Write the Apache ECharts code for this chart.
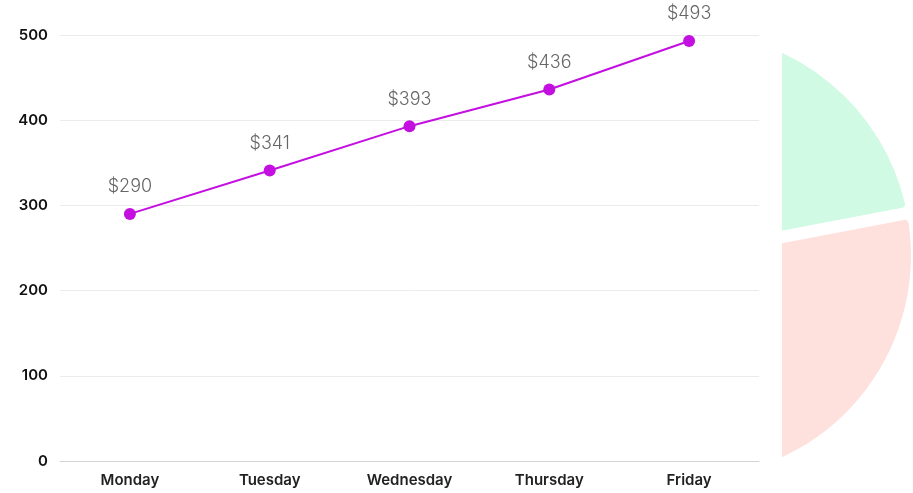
<!DOCTYPE html>
<html>
<head>
<meta charset="utf-8">
<script src="https://cdn.jsdelivr.net/npm/echarts@6/dist/echarts.min.js"></script>
<style>
  body { margin: 0; background: #fff; }
  #line-chart { position: absolute; left: 0; top: 0; width: 913px; height: 493px; }
  #pie-clip { position: absolute; left: 782px; top: 0; width: 131px; height: 493px; overflow: hidden; }
  #pie-chart { position: absolute; left: -354px; top: 0; width: 600px; height: 493px; }
</style>
</head>
<body>
<div id="line-chart"></div>
<div id="pie-clip"><div id="pie-chart"></div></div>
<script>
const days = ['Monday', 'Tuesday', 'Wednesday', 'Thursday', 'Friday'];
const sales = [290, 341, 393, 436, 493];
const yTicks = [0, 100, 200, 300, 400, 500];

const pieNames = ['A', 'B', 'C', 'D'];
const pieValues = [22, 40, 20, 18];
const pieColors = ['#d1fae5', '#fee0dc', '#e0e7ff', '#fef3c7'];

function createLineChart(id) {
    let dom = document.getElementById(id);
    let myChart = echarts.init(dom, null, { renderer: 'canvas' });
    let option = {
        animation: false,
        grid: { left: 60, right: 154, top: 35, bottom: 32 },
        xAxis: {
            type: 'category',
            data: days,
            axisLine: { lineStyle: { color: '#d4d4d4' } },
            axisTick: { show: false },
            axisLabel: {
                color: '#222',
                fontFamily: 'Inter',
                fontWeight: 600,
                fontSize: 15,
                margin: 12
            }
        },
        yAxis: {
            type: 'value',
            min: yTicks[0],
            max: yTicks[yTicks.length - 1],
            interval: 100,
            axisLine: { show: false },
            axisTick: { show: false },
            splitLine: { lineStyle: { color: '#ebebeb' } },
            axisLabel: {
                color: '#111',
                fontFamily: 'Inter',
                fontWeight: 600,
                fontSize: 15,
                margin: 12
            }
        },
        series: [
            {
                type: 'line',
                data: sales,
                symbol: 'circle',
                symbolSize: 12,
                lineStyle: { color: '#c30fe0', width: 2 },
                itemStyle: { color: '#c30fe0' },
                label: {
                    show: true,
                    position: 'top',
                    distance: 12,
                    color: '#666',
                    fontFamily: 'Inter',
                    fontWeight: 300,
                    fontSize: 18,
                    formatter: (p) => '$' + p.value
                }
            }
        ]
    };
    myChart.setOption(option);
}

function createPieChart(id) {
    let dom = document.getElementById(id);
    let myChart = echarts.init(dom, null, { renderer: 'canvas' });
    let data = [];
    for (let i = 0; i < pieValues.length; i++) {
        data.push({
            name: pieNames[i],
            value: pieValues[i],
            itemStyle: { color: pieColors[i] }
        });
    }
    let option = {
        animation: false,
        series: [
            {
                type: 'pie',
                center: [260, 255],
                radius: [0, 229],
                startAngle: 90,
                label: { show: false },
                labelLine: { show: false },
                itemStyle: { borderColor: '#fff', borderWidth: 12, borderRadius: 10 },
                data: data
            }
        ]
    };
    myChart.setOption(option);
}

createLineChart('line-chart');
createPieChart('pie-chart');
</script>
</body>
</html>
